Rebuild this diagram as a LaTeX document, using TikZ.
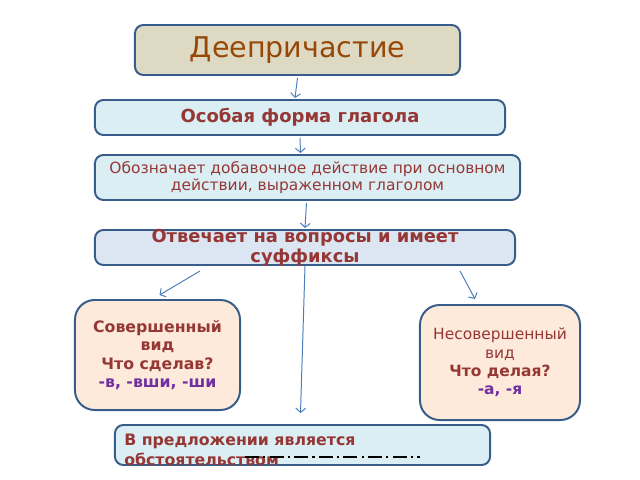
\documentclass[tikz,border=0pt]{standalone}
\usepackage{fontspec}
\setmainfont{DejaVu Sans}
\usetikzlibrary{calc}
\usetikzlibrary{arrows.meta}
\definecolor{framecol}{RGB}{56, 93, 138}
\definecolor{titlefill}{RGB}{221, 217, 195}
\definecolor{titletext}{RGB}{151, 72, 6}
\definecolor{skyfill}{RGB}{219, 238, 244}
\definecolor{bluefill}{RGB}{220, 230, 242}
\definecolor{peachfill}{RGB}{253, 234, 218}
\definecolor{redtext}{RGB}{149, 55, 53}
\definecolor{suffixcol}{RGB}{112, 48, 160}
\definecolor{arrowcol}{RGB}{74, 126, 187}

\begin{document}
\begin{tikzpicture}[x=0.025cm, y=-0.025cm,
    box/.style={draw=framecol, line width=1.4pt, rounded corners=6pt},
    bigbox/.style={box, fill=peachfill, rounded corners=14pt},
    link/.style={draw=arrowcol, line width=0.7pt, -{Straight Barb[length=3pt,width=7pt]}}]
            \useasboundingbox (0,0) rectangle (640,480);
            % boxes
            \node[box, fill=titlefill, minimum width=8.125cm, minimum height=1.25cm, text=titletext,
                  font=\fontsize{20.3}{24}\selectfont]                      (t)  at (297.5, 50.0) {Деепричастие};
            \node[box, fill=skyfill, minimum width=10.25cm, minimum height=0.875cm, text=redtext,
                  font=\bfseries\fontsize{12.8}{15}\selectfont]             (o)  at (300.0,117.5) {Особая форма глагола};
            \node[box, fill=skyfill, minimum width=10.625cm, minimum height=1.125cm, text=redtext, align=center,
                  font=\fontsize{11}{12.5}\selectfont]                      (d)  at (307.5,177.5) {Обозначает добавочное действие при основном\\действии, выраженном глаголом};
            \node[box, fill=bluefill, minimum width=10.5cm, minimum height=0.875cm]   (q)  at (305.0,247.5) {};
            \node[bigbox, minimum width=4.125cm, minimum height=2.75cm]               (s)  at (157.5,355.0) {};
            \node[bigbox, minimum width=4.0cm, minimum height=2.875cm]                (n)  at (500.0,362.5) {};
            \node[box, fill=skyfill, minimum width=9.375cm, minimum height=1.0cm]     (b)  at (302.5,445.0) {};
            % texts
            \node[text=redtext, align=center, font=\bfseries\fontsize{12.7}{14}\selectfont] (qt) at (q.center)
                 {Отвечает на вопросы и имеет\\суффиксы};
            \node[text=redtext, align=center, font=\bfseries\fontsize{11.2}{13}\selectfont] (st) at (s.center)
                 {Совершенный\\вид\\Что сделав?\\\textcolor{suffixcol}{-в, -вши, -ши}};
            \node[text=redtext, align=center, font=\fontsize{11}{13}\selectfont]            (nt) at (n.center)
                 {Несовершенный\\вид\\\textbf{Что делая?}\\\textbf{\textcolor{suffixcol}{-а, -я}}};
            \node[text=redtext, align=left, anchor=west, inner sep=0pt,
                  font=\bfseries\fontsize{11.2}{14}\selectfont]                              (bt) at (124,450)
                 {В предложении является\\обстоятельством};
            \draw[black, line width=1.2pt, dash pattern=on 10pt off 3pt on 1.5pt off 3pt] (245,457) -- (420,457);
            % arrows
            \draw[link] ($(t.south)+(0,2)$)     -- ($(o.north)+(-5,-1)$);
            \draw[link] ($(o.south)+(0,2)$)     -- ($(d.north)+(-7,-1)$);
            \draw[link] ($(d.south)+(-1,2)$)    -- ($(q.north)+(0,-1)$);
            \draw[link] ($(q.south)+(-105,5)$)  -- ($(s.north)+(2,-4)$);
            \draw[link] ($(q.south)+(155,5)$)   -- ($(n.north)+(-25,-5)$);
            \draw[link] (q.south)               -- ($(b.north)+(-2,-11)$);
\end{tikzpicture}
\end{document}
